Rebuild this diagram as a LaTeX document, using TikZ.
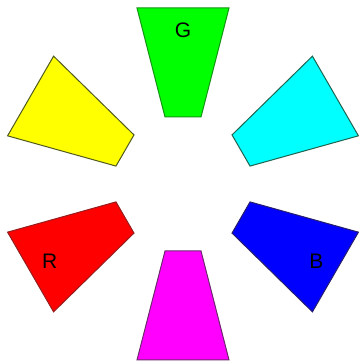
\documentclass[tikz,border=0pt]{standalone}
\usepackage{fontspec}
\setmainfont{Liberation Sans}
\tikzset{
  petal/.style={line width=1pt, line join=miter},
  lbl/.style={font=\fontsize{21}{21}\selectfont, text=black, inner sep=0pt}
}
\begin{document}
\begin{tikzpicture}[x=1pt,y=1pt]
\useasboundingbox (0,0) rectangle (358,363);
\fill[white] (0,0) rectangle (358,363);
\begin{scope}[shift={(183,179)}]
  \def\petalpath{(-46,176) -- (46,176) -- (18,67) -- (-18,67) -- cycle}
  \filldraw[petal, fill={rgb,255:red,0;green,255;blue,0}, draw={rgb,255:red,20;green,150;blue,20}, rotate=0] (-46,176) -- (46,176) -- (18,67) -- (-18,67) -- cycle;
  \filldraw[petal, fill={rgb,255:red,255;green,255;blue,0}, draw={rgb,255:red,80;green,90;blue,30}, rotate=60] (-46,176) -- (46,176) -- (18,67) -- (-18,67) -- cycle;
  \filldraw[petal, fill={rgb,255:red,255;green,0;blue,0}, draw={rgb,255:red,150;green,30;blue,30}, rotate=120] (-46,176) -- (46,176) -- (18,67) -- (-18,67) -- cycle;
  \filldraw[petal, fill={rgb,255:red,255;green,0;blue,255}, draw={rgb,255:red,110;green,40;blue,110}, rotate=180] (-46,176) -- (46,176) -- (18,67) -- (-18,67) -- cycle;
  \filldraw[petal, fill={rgb,255:red,0;green,0;blue,255}, draw={rgb,255:red,40;green,30;blue,110}, rotate=240] (-46,176) -- (46,176) -- (18,67) -- (-18,67) -- cycle;
  \filldraw[petal, fill={rgb,255:red,0;green,255;blue,255}, draw={rgb,255:red,30;green,100;blue,80}, rotate=300] (-46,176) -- (46,176) -- (18,67) -- (-18,67) -- cycle;
  \node[lbl] (G) at (90:154) {G};
  \node[lbl] (R) at (210:154) {R};
  \node[lbl] (B) at (330:154) {B};
\end{scope}
\end{tikzpicture}
\end{document}
